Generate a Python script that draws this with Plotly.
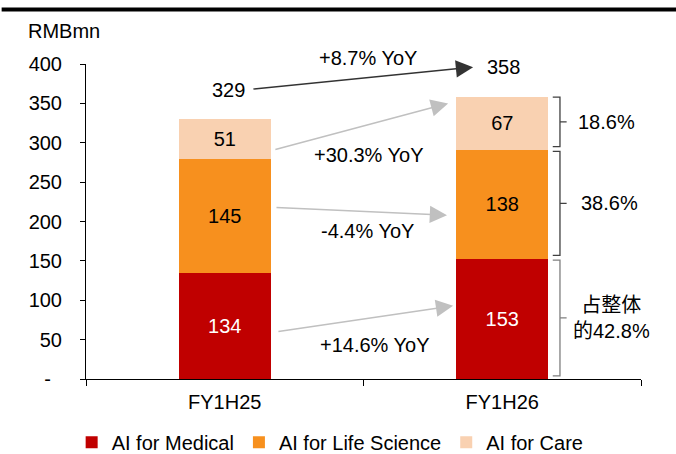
import plotly.graph_objects as go

# Revenue by segment, RMB mn
periods = ["FY1H25", "FY1H26"]
segment_names = ["AI for Medical", "AI for Life Science", "AI for Care"]
medical = [134, 153]
life_science = [145, 138]
care = [51, 67]
totals = [329, 358]

# Growth labels per segment (medical, life science, care) and for the total
segment_yoy = ["+14.6% YoY", "-4.4% YoY", "+30.3% YoY"]
total_yoy = "+8.7% YoY"

# Share of FY1H26 total per segment (medical, life science, care)
segment_share = ["占整体<br>的42.8%", "38.6%", "18.6%"]

y_tick_vals = [0, 50, 100, 150, 200, 250, 300, 350, 400]
y_tick_text = ["-\u00a0\u00a0", "50", "100", "150", "200", "250", "300", "350", "400"]

colors = ["#C00000", "#F7901E", "#F9D1B1"]
label_colors = ["white", "black", "black"]
FONT = "Liberation Sans, Arial, Noto Sans CJK SC, sans-serif"
FS = 20

series = [medical, life_science, care]

fig = go.Figure()
for name, vals, col, lc in zip(segment_names, series, colors, label_colors):
    fig.add_trace(go.Bar(
        x=periods, y=vals, name=name, width=0.33,
        marker=dict(color=col, line=dict(width=0)),
        text=vals, texttemplate="%{y}", textposition="inside",
        insidetextanchor="middle",
        textfont=dict(size=FS, color=lc, family=FONT),
        hoverinfo="skip",
    ))

annotations = []

# unit label
annotations.append(dict(xref="paper", yref="paper", x=-0.108, y=1.105,
                        xanchor="left", yanchor="middle", text="RMBmn",
                        showarrow=False, font=dict(size=FS, color="black", family=FONT)))

# totals and total growth arrow
annotations.append(dict(x=0.012, y=367, xref="x", yref="y", text=str(totals[0]),
                        showarrow=False, font=dict(size=FS, color="black", family=FONT)))
annotations.append(dict(x=1.006, y=396, xref="x", yref="y", text=str(totals[1]),
                        showarrow=False, font=dict(size=FS, color="black", family=FONT)))
annotations.append(dict(x=0.895, y=396, ax=0.098, ay=368, xref="x", yref="y",
                        axref="x", ayref="y", text="", showarrow=True,
                        arrowhead=2, arrowsize=2.3, arrowwidth=1.5,
                        arrowcolor="#333333", standoff=0, startstandoff=0))
# total growth label sits above the axis range, so place it in paper units
annotations.append(dict(x=0.516, y=1.019, xref="x", yref="paper", text=total_yoy,
                        xanchor="center", yanchor="middle",
                        showarrow=False, font=dict(size=FS, color="black", family=FONT)))

# segment growth arrows: (tail, head) and label position
seg_arrows = [
    ((0.188, 60), (0.823, 93), (0.541, 43)),
    ((0.181, 218), (0.801, 208), (0.516, 188)),
    ((0.177, 291), (0.805, 350), (0.520, 284)),
]
for (tail, head, lab), text in zip(seg_arrows, segment_yoy):
    annotations.append(dict(x=head[0], y=head[1], ax=tail[0], ay=tail[1],
                            xref="x", yref="y", axref="x", ayref="y", text="",
                            showarrow=True, arrowhead=2, arrowsize=2.3,
                            arrowwidth=1.5, arrowcolor="#C0C0C0",
                            standoff=0, startstandoff=0))
    annotations.append(dict(x=lab[0], y=lab[1], xref="x", yref="y", text=text,
                            showarrow=False,
                            font=dict(size=FS, color="black", family=FONT)))

# brackets for the FY1H26 segment shares
shapes = []
bases = [0, medical[1], medical[1] + life_science[1]]
tops = [medical[1], medical[1] + life_science[1], medical[1] + life_science[1] + care[1]]
bracket_colors = ["#7F7F7F", "#404040", "#404040"]
share_x = [1.395, 1.388, 1.377]
x_left, x_vert, x_tip = 0.841, 0.854, 0.866
for b, t, bc, sx, label in zip(bases, tops, bracket_colors, share_x, segment_share):
    y0 = b + 4
    y1 = t - (0 if t == tops[-1] else 2)
    ym = (y0 + y1) / 2
    path = (f"M{x_left},{y1} L{x_vert},{y1} L{x_vert},{y0} L{x_left},{y0} "
            f"M{x_vert},{ym} L{x_tip},{ym}")
    shapes.append(dict(type="path", xref="paper", yref="y", path=path,
                       line=dict(color=bc, width=1.3)))
    annotations.append(dict(x=sx, y=ym, xref="x", yref="y", text=label,
                            showarrow=False, align="center",
                            font=dict(size=FS, color="black", family=FONT)))

# heavy rule across the top
shapes.append(dict(type="line", xref="paper", yref="paper", x0=-0.152, x1=1.065,
                   y0=1.173, y1=1.173, line=dict(color="black", width=4)))

fig.update_layout(
    width=676, height=454,
    margin=dict(l=86, r=35, t=64, b=75, pad=0, autoexpand=False),
    paper_bgcolor="white", plot_bgcolor="white",
    barmode="stack",
    font=dict(family=FONT, size=FS, color="black"),
    showlegend=True,
    legend=dict(orientation="h", xref="container", yref="container",
                x=0.106, y=0.026, xanchor="left", yanchor="middle",
                font=dict(size=FS, color="black", family=FONT),
                traceorder="normal", itemwidth=30, bgcolor="rgba(0,0,0,0)"),
    annotations=annotations,
    shapes=shapes,
    xaxis=dict(type="category", range=[-0.5, 1.5], showline=True, linecolor="black",
               linewidth=1, ticks="outside", tickson="boundaries", ticklen=6,
               tickcolor="black", tickfont=dict(size=FS), showgrid=False,
               zeroline=False, fixedrange=True, ticklabelstandoff=5),
    yaxis=dict(range=[0, 400], tickvals=y_tick_vals, ticktext=y_tick_text,
               showline=True, linecolor="black", linewidth=1, ticks="outside",
               ticklen=5, tickcolor="black", tickfont=dict(size=FS),
               showgrid=False, zeroline=False, ticklabelstandoff=14,
               fixedrange=True),
)

fig.write_html("out.html")
